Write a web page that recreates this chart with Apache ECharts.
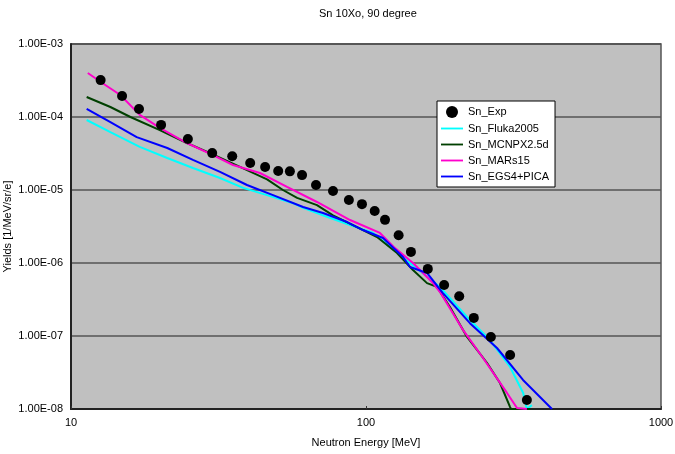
<!DOCTYPE html>
<html><head><meta charset="utf-8">
<script src="https://cdn.jsdelivr.net/npm/echarts@6/dist/echarts.min.js"></script>
<style>html,body{margin:0;padding:0;background:#fff}#c{width:675px;height:454px}</style>
</head><body><div id="c"></div>
<script>
const expX = [12.6,14.9,17.0,20.2,24.9,30.1,35.2,40.5,45.5,50.4,55.2,60.7,67.7,77.3,87.5,96.9,107,116,129,142,162,184,207,232,265,308,351];
const expY = [3.2e-4,1.94e-4,1.29e-4,7.8e-5,5.0e-5,3.2e-5,2.9e-5,2.34e-5,2.07e-5,1.82e-5,1.8e-5,1.6e-5,1.17e-5,9.7e-6,7.3e-6,6.4e-6,5.15e-6,3.9e-6,2.4e-6,1.42e-6,8.3e-7,5.0e-7,3.5e-7,1.77e-7,9.7e-8,5.5e-8,1.33e-8];

const flukaX = [11.3,13.6,17.1,21.2,25.9,32.0,38.3,46.2,56.6,61.2,73.7,88.3,105.6,120.6,141,178,220,263,308,341,351,365];
const flukaY = [9.1e-5,6.2e-5,3.9e-5,2.74e-5,2.0e-5,1.46e-5,1.07e-5,8.5e-6,6.6e-6,5.7e-6,4.3e-6,3.3e-6,2.6e-6,1.66e-6,1.0e-6,4.7e-7,1.82e-7,8.8e-8,3.76e-8,1.66e-8,1.0e-8,1.13e-8];

const mcnpX = [11.3,13.6,15.9,20.0,24.7,29.6,37.4,46.2,52.3,58.4,68.2,77.3,90.3,109,127.4,144.3,161,174,192.6,220,257,284.6,307.7,310,360];
const mcnpY = [1.88e-4,1.37e-4,1.0e-4,6.6e-5,4.4e-5,3.2e-5,2.07e-5,1.4e-5,1.0e-5,7.8e-6,6.2e-6,4.5e-6,3.3e-6,2.27e-6,1.37e-6,8.0e-7,5.3e-7,4.7e-7,2.5e-7,9.7e-8,4.3e-8,2.27e-8,1.07e-8,1.0e-8,1.0e-8];

const marsX = [11.4,12.8,14.7,17.1,20.0,24.7,30.3,35.4,43.7,54.0,68.2,88.3,111.5,125.4,144.3,167.4,178.2,213.2,249.3,300.6,325,351];
const marsY = [4.0e-4,2.9e-4,2.0e-4,1.07e-4,7.1e-5,4.4e-5,3.0e-5,2.2e-5,1.71e-5,1.1e-5,6.85e-6,3.88e-6,2.58e-6,1.6e-6,1.0e-6,5.5e-7,4.0e-7,1.21e-7,5.0e-8,1.66e-8,1.03e-8,1.0e-8];

const egsX = [11.3,13.6,16.7,21.2,25.9,32.0,39.5,48.4,61.2,71.5,86.3,97.7,114.2,133.5,141,161,182,225,278,340.6,427];
const egsY = [1.29e-4,8.5e-5,5.3e-5,3.76e-5,2.58e-5,1.77e-5,1.17e-5,8.5e-6,5.85e-6,4.84e-6,3.64e-6,2.83e-6,2.2e-6,1.21e-6,8.8e-7,7.3e-7,3.9e-7,1.5e-7,6.85e-8,2.5e-8,1.0e-8];

const seriesNames = ['Sn_Exp','Sn_Fluka2005','Sn_MCNPX2.5d','Sn_MARs15','Sn_EGS4+PICA'];
const xTicks = [10,100,1000];

function pairs(xs, ys){ return xs.map((x,i)=>[x, ys[i]]); }
function fmtE(v){
  const e = Math.round(Math.log10(v));
  const m = v/Math.pow(10,e);
  const s = e<0?'-':'+';
  const a = Math.abs(e);
  return m.toFixed(2)+'E'+s+(a<10?'0'+a:a);
}
const font = 'Liberation Sans, Arial, sans-serif';
const chart = echarts.init(document.getElementById('c'));
function lineS(name, xs, ys, color){
  return {name, type:'line', data:pairs(xs,ys), showSymbol:false, symbol:'none',
    lineStyle:{color, width:2}, itemStyle:{color}, clip:true, z:3};
}
const lineIcon = 'path://M0,0 L24,0 L24,2 L0,2 Z';
chart.setOption({
  animation:false,
  title:{text:'Sn 10Xo, 90 degree', left:314, top:3, textStyle:{fontSize:11, fontWeight:'normal', color:'#000', fontFamily:font}},
  grid:{left:71, right:14, top:44, bottom:45, containLabel:false, outerBoundsMode:'none', show:true, backgroundColor:'#c0c0c0', borderColor:'#555', borderWidth:1.5},
  legend:{orient:'vertical', left:437, top:101, backgroundColor:'#fff', borderColor:'#000', borderWidth:1,
    padding:[5,6,5,4], itemGap:5, itemWidth:22, itemHeight:12,
    textStyle:{fontSize:11, color:'#000', fontFamily:font},
    data:seriesNames.map((n,i)=> i===0 ? {name:n, icon:'circle', itemStyle:{color:'#000'}} : {name:n, icon:lineIcon})},
  xAxis:{type:'log', logBase:10, min:xTicks[0], max:xTicks[xTicks.length-1],
    name:'Neutron Energy [MeV]', nameLocation:'middle', nameGap:28,
    nameTextStyle:{fontSize:11, color:'#000', fontFamily:font},
    axisLine:{show:true, lineStyle:{color:'#222', width:2}},
    axisTick:{show:true, inside:true, length:3, lineStyle:{color:'#333'}},
    minorTick:{show:false},
    splitLine:{show:false},
    axisLabel:{fontSize:11, color:'#000', fontFamily:font, margin:8, formatter:v=>String(Math.round(v))}},
  yAxis:{type:'log', logBase:10, min:1e-8, max:1e-3,
    name:'Yields [1/MeV/sr/e]', nameLocation:'middle', nameGap:58, nameRotate:90, nameMoveOverlap:false,
    nameTextStyle:{fontSize:11, color:'#000', fontFamily:font},
    axisLine:{show:true, lineStyle:{color:'#222', width:2}},
    axisTick:{show:false},
    splitLine:{show:true, lineStyle:{color:'#555', width:1.5}},
    axisLabel:{fontSize:11, color:'#000', fontFamily:font, margin:8, formatter:v=>fmtE(v)}},
  series:[
    {name:seriesNames[0], type:'scatter', data:pairs(expX,expY), symbol:'circle', symbolSize:10, itemStyle:{color:'#000', opacity:1}, z:5},
    lineS(seriesNames[1], flukaX, flukaY, '#00ffff'),
    lineS(seriesNames[2], mcnpX, mcnpY, '#004000'),
    lineS(seriesNames[3], marsX, marsY, '#ff00cc'),
    lineS(seriesNames[4], egsX, egsY, '#0000ff')
  ]
});
</script></body></html>
